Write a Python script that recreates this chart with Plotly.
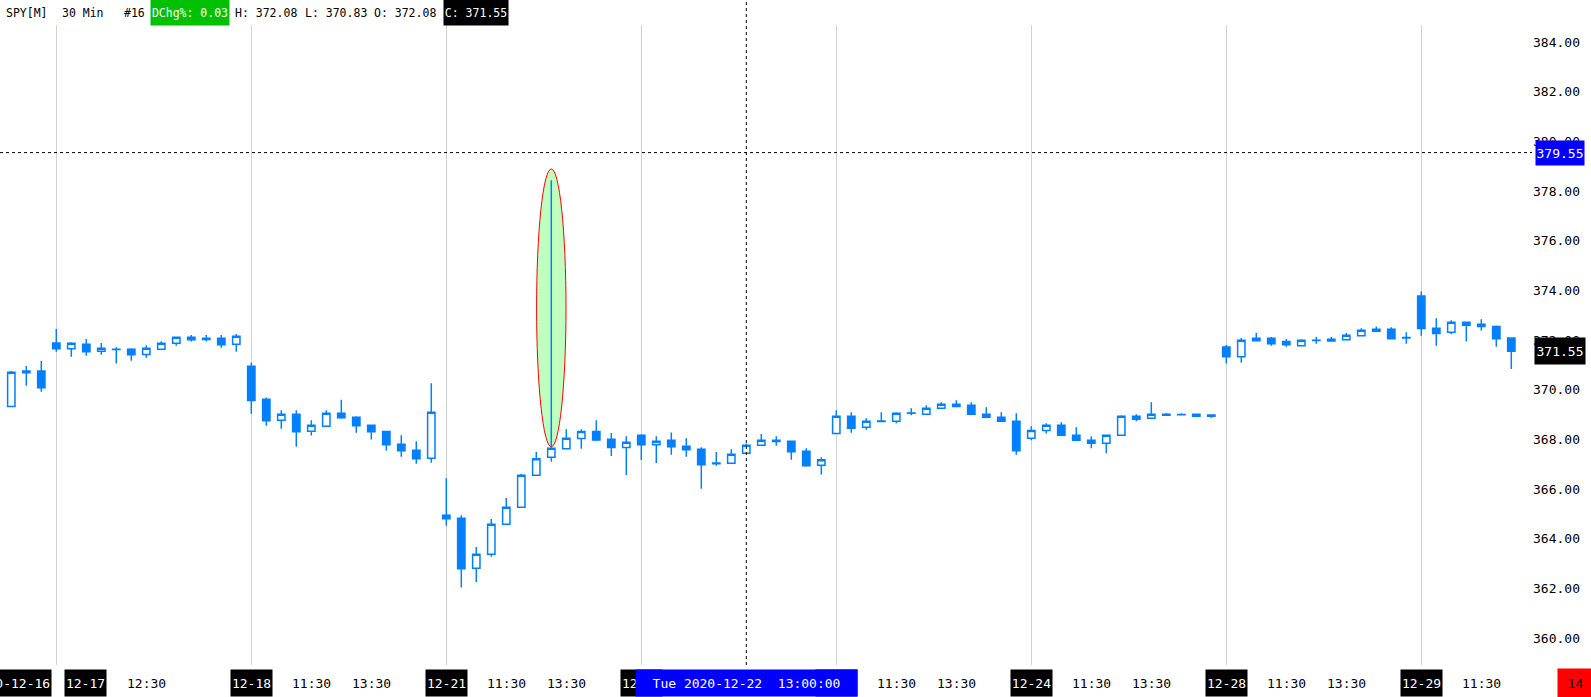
import plotly.graph_objects as go

# ---------------- data ----------------
days = ["2020-12-16", "2020-12-17", "2020-12-18", "2020-12-21", "2020-12-22",
        "2020-12-23", "2020-12-24", "2020-12-28", "2020-12-29"]
day_tick_text = ["2020-12-16", "12-17", "12-18", "12-21", "12-22",
                 "12-23", "12-24", "12-28", "12-29"]
weekday = ["Wed", "Thu", "Fri", "Mon", "Tue", "Wed", "Thu", "Mon", "Tue"]
first_bar_minutes = [14 * 60 + 30, 9 * 60 + 30, 9 * 60 + 30, 9 * 60 + 30, 9 * 60 + 30,
                     9 * 60 + 30, 9 * 60 + 30, 9 * 60 + 30, 9 * 60 + 30]
bars_per_day = [3, 13, 13, 13, 13, 13, 13, 13, 7]

time_ticks = [("2020-12-17", "12:30"),
              ("2020-12-18", "11:30"), ("2020-12-18", "13:30"),
              ("2020-12-21", "11:30"), ("2020-12-21", "13:30"),
              ("2020-12-22", "11:30"), ("2020-12-22", "13:30"),
              ("2020-12-23", "11:30"), ("2020-12-23", "13:30"),
              ("2020-12-24", "11:30"), ("2020-12-24", "13:30"),
              ("2020-12-28", "11:30"), ("2020-12-28", "13:30"),
              ("2020-12-29", "11:30")]

opens = [369.32, 370.75, 370.75, 371.88, 371.65, 371.83, 371.55, 371.63, 371.63, 371.42,
         371.63, 371.87, 372.11, 372.07, 372.07, 371.83, 370.94, 369.61, 368.77, 369.01,
         368.33, 368.53, 369.05, 368.89, 368.57, 368.32, 367.80, 367.56, 367.24, 364.94,
         364.82, 362.81, 363.37, 364.58, 365.26, 366.55, 367.28, 367.62, 368.03, 368.32,
         368.00, 367.67, 368.16, 367.78, 367.96, 367.72, 367.60, 367.05, 367.04, 367.44,
         367.76, 367.96, 367.92, 367.52, 366.96, 368.24, 368.93, 368.49, 368.72, 368.73,
         369.05, 369.01, 369.25, 369.41, 369.37, 369.01, 368.89, 368.73, 368.04, 368.36,
         368.57, 368.16, 367.96, 367.84, 368.16, 368.93, 368.85, 369.01, 369.00, 369.01,
         368.98, 371.72, 371.33, 371.97, 372.07, 371.94, 371.77, 371.98, 372.03, 372.01,
         372.17, 372.35, 372.43, 372.10, 373.77, 372.47, 372.31, 372.72, 372.64, 372.55,
         372.08]
highs = [370.75, 370.95, 371.16, 372.44, 371.91, 372.04, 371.88, 371.71, 371.67, 371.79,
         371.95, 372.11, 372.20, 372.20, 372.20, 372.24, 371.10, 369.69, 369.17, 369.17,
         368.77, 369.17, 369.59, 368.93, 368.57, 368.32, 368.16, 367.92, 370.26, 366.43,
         364.94, 363.66, 364.79, 365.64, 366.60, 367.49, 378.44, 368.41, 368.41, 368.77,
         368.26, 368.12, 368.20, 368.12, 368.28, 368.04, 367.68, 367.49, 367.60, 367.83,
         368.22, 368.12, 367.92, 367.64, 367.28, 369.17, 369.09, 368.85, 369.09, 369.09,
         369.25, 369.37, 369.49, 369.57, 369.49, 369.29, 369.09, 369.05, 368.53, 368.65,
         368.69, 368.49, 368.12, 368.16, 368.97, 369.01, 369.49, 369.06, 369.05, 369.01,
         368.98, 371.80, 372.08, 372.28, 372.12, 372.04, 372.03, 372.12, 372.12, 372.28,
         372.47, 372.55, 372.51, 372.31, 373.96, 372.88, 372.80, 372.72, 372.84, 372.59,
         372.08]
lows = [369.32, 370.16, 369.92, 371.53, 371.33, 371.37, 371.41, 371.05, 371.17, 371.29,
        371.63, 371.77, 371.94, 371.94, 371.69, 371.53, 369.03, 368.55, 368.43, 367.70,
        368.15, 368.49, 368.83, 368.27, 367.99, 367.54, 367.30, 367.02, 367.06, 364.52,
        362.03, 362.24, 363.27, 364.58, 365.26, 366.55, 367.10, 367.62, 367.62, 367.93,
        367.33, 366.56, 367.17, 367.05, 367.38, 367.30, 366.01, 366.94, 367.04, 367.44,
        367.76, 367.74, 367.18, 366.90, 366.58, 368.24, 368.27, 368.39, 368.69, 368.65,
        368.97, 369.01, 369.25, 369.32, 369.01, 368.89, 368.73, 367.38, 367.96, 368.24,
        368.16, 367.96, 367.64, 367.44, 368.16, 368.73, 368.85, 368.97, 368.97, 368.93,
        368.87, 371.05, 371.09, 371.94, 371.77, 371.73, 371.77, 371.85, 371.94, 372.01,
        372.17, 372.35, 372.05, 371.85, 372.17, 371.77, 372.23, 371.94, 372.38, 371.73,
        370.83]
closes = [370.70, 370.68, 370.08, 371.65, 371.87, 371.53, 371.67, 371.62, 371.41, 371.67,
          371.87, 372.11, 372.01, 372.02, 371.81, 372.15, 369.56, 368.75, 369.01, 368.31,
          368.57, 369.05, 368.87, 368.55, 368.31, 367.78, 367.54, 367.22, 369.09, 364.80,
          362.79, 363.37, 364.58, 365.26, 366.55, 367.22, 367.64, 368.04, 368.32, 367.97,
          367.67, 367.88, 367.78, 367.92, 367.70, 367.58, 366.98, 367.02, 367.40, 367.76,
          367.96, 367.91, 367.50, 366.94, 367.18, 368.93, 368.45, 368.73, 368.74, 369.05,
          369.06, 369.25, 369.41, 369.32, 369.01, 368.89, 368.73, 367.54, 368.36, 368.57,
          368.16, 367.96, 367.84, 368.16, 368.93, 368.81, 369.01, 368.97, 368.99, 368.93,
          368.93, 371.33, 371.99, 372.07, 371.85, 371.81, 371.99, 371.99, 371.96, 372.19,
          372.39, 372.43, 372.05, 372.08, 372.46, 372.26, 372.72, 372.60, 372.55, 372.05,
          371.55]

y_ticks = [360, 362, 364, 366, 368, 370, 372, 374, 376, 378, 380, 382, 384]

symbol = "SPY[M]"
interval_text = "30 Min"
bar_count_text = "#16"
day_change_pct = 0.03
countdown_text = "14"

crosshair_day = "2020-12-22"
crosshair_time = "13:00"
crosshair_price = 379.55
spike_day = "2020-12-21"
spike_time = "13:00"

# ---------------- build bar index ----------------
bar_day, bar_time = [], []
for d, m0, n in zip(days, first_bar_minutes, bars_per_day):
    for k in range(n):
        m = m0 + 30 * k
        bar_day.append(d)
        bar_time.append(f"{m // 60:02d}:{m % 60:02d}")
x_idx = list(range(len(bar_day)))


def bar_of(day, t):
    for i, (d, tt) in enumerate(zip(bar_day, bar_time)):
        if d == day and tt == t:
            return i
    return None


day_start = [bar_day.index(d) for d in days]

# ---------------- style ----------------
BLUE = "#0080ff"
FONT = "DejaVu Sans Mono"
W, H = 1591, 697
ML, MR, MT, MB = 0, 59, 25, 32
PW, PH = W - ML - MR, H - MT - MB
PX_PER_BAR = 15.0
x_lo = -11.3 / PX_PER_BAR
x_range = [x_lo, x_lo + PW / PX_PER_BAR]
y_range = [358.91, 384.69]

fig = go.Figure()
fig.add_trace(go.Candlestick(
    x=x_idx, open=opens, high=highs, low=lows, close=closes,
    increasing=dict(line=dict(color=BLUE, width=1.5), fillcolor="white"),
    decreasing=dict(line=dict(color=BLUE, width=1.5), fillcolor=BLUE),
    whiskerwidth=0, hoverinfo="skip", showlegend=False,
))

# highlight ellipse around the spike bar
si = bar_of(spike_day, spike_time)
fig.add_shape(type="circle", xref="x", yref="y", layer="between",
              x0=si - 0.98, x1=si + 0.98,
              y0=max(opens[si], closes[si]) + 0.06, y1=highs[si] + 0.45,
              fillcolor="#c0ffc0", line=dict(color="red", width=1))

# crosshair
ci = bar_of(crosshair_day, crosshair_time)
fig.add_shape(type="line", xref="x", yref="paper", x0=ci, x1=ci, y0=0, y1=1 + MT / PH,
              line=dict(color="black", width=1, dash="dot"))
fig.add_shape(type="line", xref="paper", yref="y", x0=0, x1=1,
              y0=crosshair_price, y1=crosshair_price,
              line=dict(color="black", width=1, dash="dot"))

CROSS_BOX_W = 221
cross_half = CROSS_BOX_W / 2 / PX_PER_BAR


def hidden_by_cross(x, half_w_bars):
    return abs(x - ci) + half_w_bars < cross_half


ann = []
label_y = -18 / PH
# time labels
for d, t in time_ticks:
    xi = bar_of(d, t)
    if hidden_by_cross(xi, 20 / PX_PER_BAR):
        continue
    ann.append(dict(x=xi, xref="x", y=label_y, yref="paper", text=t,
                    showarrow=False, font=dict(family=FONT, size=13, color="black"),
                    xanchor="center", yanchor="middle"))
# day labels
for k, (d, txt) in enumerate(zip(days, day_tick_text)):
    wbox = 80 if k == 0 else 41
    shift = 29 if k == 1 else 0
    if hidden_by_cross(day_start[k], wbox / 2 / PX_PER_BAR):
        continue
    ann.append(dict(x=day_start[k], xref="x", y=label_y, yref="paper", text=txt,
                    showarrow=False, font=dict(family=FONT, size=13, color="white"),
                    bgcolor="black", width=wbox, height=26, borderpad=0, xshift=shift,
                    xanchor="center", yanchor="middle"))
# crosshair x label
wd = weekday[days.index(crosshair_day)]
ann.append(dict(x=ci, xref="x", y=label_y, yref="paper",
                text=f"{wd} {crosshair_day}  {crosshair_time}:00",
                showarrow=False, font=dict(family=FONT, size=13, color="white"),
                bgcolor="#0000ff", width=CROSS_BOX_W, height=26, borderpad=0,
                xanchor="center", yanchor="middle"))
# countdown box
ann.append(dict(x=(1556.5 - ML) / PW, xref="paper", y=-18 / PH, yref="paper",
                text=countdown_text, showarrow=False,
                font=dict(family=FONT, size=13, color="black"),
                bgcolor="#ff0000", width=35, height=28, borderpad=0,
                xanchor="left", yanchor="middle"))
# price boxes on y axis
ann.append(dict(x=1, xref="paper", y=crosshair_price, yref="y", text=f"{crosshair_price:.2f}",
                showarrow=False, font=dict(family=FONT, size=13, color="white"),
                bgcolor="#0000ff", width=48, height=24, borderpad=0, xshift=3,
                xanchor="left", yanchor="middle"))
ann.append(dict(x=1, xref="paper", y=closes[-1], yref="y", text=f"{closes[-1]:.2f}",
                showarrow=False, font=dict(family=FONT, size=13, color="white"),
                bgcolor="black", width=50, height=26, borderpad=0, xshift=2,
                xanchor="left", yanchor="middle"))
# header
hy = 1 + 12.5 / PH
header_items = [
    (5, symbol, None, "black", None),
    (61, interval_text, None, "black", None),
    (123, bar_count_text, None, "black", None),
    (150, f"DChg%: {day_change_pct:.2f}", "#00c000", "white", 78),
    (234, f"H: {max(opens[-1], highs[-1]):.2f}", None, "black", None),
    (304, f"L: {lows[-1]:.2f}", None, "black", None),
    (373, f"O: {opens[-1]:.2f}", None, "black", None),
    (443, f"C: {closes[-1]:.2f}", "black", "white", 64),
]
for px, txt, bg, fc, wbox in header_items:
    a = dict(x=(px - ML) / PW, xref="paper", y=hy, yref="paper", text=txt,
             showarrow=False, font=dict(family=FONT, size=11.5, color=fc),
             xanchor="left", yanchor="middle", borderpad=0)
    if bg:
        a.update(bgcolor=bg, width=wbox, height=25)
    ann.append(a)

fig.update_layout(
    width=W, height=H, margin=dict(l=ML, r=MR, t=MT, b=MB),
    paper_bgcolor="white", plot_bgcolor="white",
    annotations=ann, showlegend=False, hovermode=False,
    xaxis=dict(range=x_range, tickvals=day_start[1:], showticklabels=False,
               showgrid=True, gridcolor="#d3d3d3", gridwidth=1, zeroline=False,
               showline=False, ticks="", rangeslider=dict(visible=False), fixedrange=True),
    yaxis=dict(range=y_range, side="right", tickvals=y_ticks, tickformat=".2f",
               showgrid=False, zeroline=False, showline=False, ticks="",
               tickfont=dict(family=FONT, size=13, color="black"), fixedrange=True),
)

fig.write_html("out.html", config=dict(displayModeBar=False),
               post_script="document.body.style.margin='0';"
                           "document.body.style.overflow='hidden';")
